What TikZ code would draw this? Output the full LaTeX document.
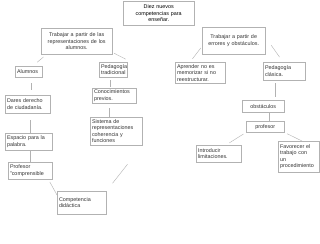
\documentclass[tikz,border=0pt]{standalone}
\usepackage{fontspec}
\setmainfont{Liberation Sans}
\usetikzlibrary{positioning}
\begin{document}
\begin{tikzpicture}[
  x=1pt,y=-1pt,
  box/.style={draw=gray!60,line width=0.4pt,anchor=north west,align=left,
              font=\fontsize{5.4}{6.4}\selectfont,text=black!80,inner sep=1.8pt},
  ctr/.style={box,align=center},
  lk/.style={gray!60,line width=0.4pt}]

\useasboundingbox[fill=white] (0,0) rectangle (320,243);

% ================= title =================
\node[ctr,text width=67.4pt,minimum height=24pt,text=black](diez) at (123,1)
  {Diez nuevos\\competencias para\\enseñar.};

% ================= left branch =================
\node[ctr,text width=67.4pt,minimum height=26pt](repr) at (41,28)
  {Trabajar a partir de las\\representaciones de los\\alumnos.};
\node[box,text width=23.4pt,minimum height=11pt](alumnos) at (15,66){Alumnos};
\node[box,text width=24.4pt,minimum height=15pt](pedtrad) at (99,62){Pedagogía\\tradicional};
\node[box,text width=41.4pt,minimum height=18pt](dares) at (5,95){Dares derecho\\de ciudadanía.};
\node[box,text width=40.4pt,minimum height=15pt](conoc) at (92,88){Conocimientos\\previos.};
\node[box,text width=48.4pt,minimum height=28pt](sistema) at (90,117)
  {Sistema de\\representaciones\\coherencia y\\funciones};
\node[box,text width=43.4pt,minimum height=17pt](espacio) at (5,133){Espacio para la\\palabra.};
\node[box,text width=40.4pt,minimum height=17pt](profcomp) at (8,162){Profesor\\"comprensible};
\node[box,text width=45.4pt,minimum height=23pt](compet) at (57,191){Competencia\\didáctica};

\draw[lk,shorten <=4pt,shorten >=6pt] ([xshift=5.6pt]repr.south west) -- ([xshift=4pt]alumnos.north);
\draw[lk,shorten <=2pt,shorten >=2pt] ([yshift=2pt]repr.south east) -- ([yshift=2pt]pedtrad.north east);
\draw[lk,shorten <=6pt,shorten >=5pt] ([xshift=2.5pt]alumnos.south) -- ([xshift=2.5pt]alumnos.south |- dares.north);
\draw[lk,shorten <=7pt] ([xshift=2.5pt]dares.south) -- ([xshift=2.5pt]dares.south |- espacio.north);
\draw[lk] ([xshift=1.5pt]espacio.south) -- ([xshift=1.5pt]espacio.south |- profcomp.north);
\draw[lk,shorten <=3pt] ([xshift=-4pt]profcomp.south east) -- ([yshift=-4pt]compet.north west);
\draw[lk,shorten <=3pt,shorten >=1pt] ([xshift=-3pt]pedtrad.south) -- ([xshift=-3pt]pedtrad.south |- conoc.north);
\draw[lk,shorten <=5pt] ([xshift=-5pt]conoc.south) -- ([xshift=-5pt]conoc.south |- sistema.north);
\draw[lk,shorten <=24pt,shorten >=10pt] (sistema.south east) -- (compet.north east);

% ================= right branch =================
\node[ctr,text width=59.4pt,minimum height=27pt](errores) at (202,27)
  {Trabajar a partir de\\errores y obstáculos.};
\node[box,text width=46.4pt,minimum height=21pt](aprender) at (175,62)
  {Aprender no es\\memorizar si no\\reestructurar.};
\node[box,text width=38.4pt,minimum height=18pt](pedclas) at (263,62){Pedagogía\\clásica.};
\node[ctr,text width=38.4pt,minimum height=12pt](obst) at (242,100){obstáculos};
\node[ctr,text width=34.4pt,minimum height=11pt](profesor) at (246,121){profesor};
\node[box,text width=41.4pt,minimum height=17pt](introd) at (196,145){Introducir\\limitaciones.};
\node[box,text width=37.4pt,minimum height=31pt](favor) at (278,141)
  {Favorecer el\\trabajo con\\un\\procedimiento};

\draw[lk,shorten <=2pt,shorten >=4pt] ([yshift=8pt]errores.south west) -- ([xshift=15pt]aprender.north west);
\draw[lk,shorten <=10pt,shorten >=6pt] ([yshift=-10pt]errores.north east) -- ([xshift=20pt]pedclas.north west);
\draw[lk,shorten <=3pt,shorten >=3pt] ([xshift=-9pt]pedclas.south) -- ([xshift=-9pt]pedclas.south |- obst.north);
\draw[lk] ([xshift=6pt]obst.south) -- ([xshift=6pt]obst.south |- profesor.north);
\draw[lk,shorten <=3pt,shorten >=4pt] (profesor.south west) -- ([xshift=30pt]introd.north west);
\draw[lk,shorten <=3pt] (profesor.south east) -- ([xshift=24pt]favor.north west);
\end{tikzpicture}
\end{document}
